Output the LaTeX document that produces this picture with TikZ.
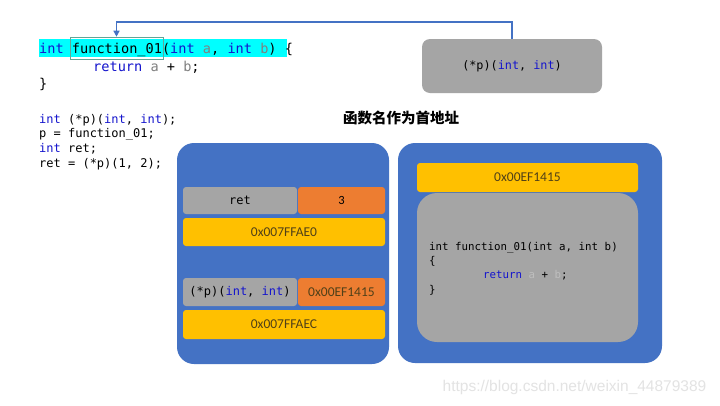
\documentclass[tikz,border=0pt]{standalone}
\usepackage{fontspec}
\setmainfont{Carlito}
\setmonofont{DejaVu Sans Mono}
\newfontfamily\cjk{Noto Sans CJK SC}
\newfontfamily\wmfont{Liberation Sans}
\usetikzlibrary{arrows.meta}
\definecolor{pblue}{HTML}{4472C4}
\definecolor{pgray}{HTML}{A5A5A5}
\definecolor{porange}{HTML}{ED7D31}
\definecolor{pyellow}{HTML}{FFC000}
\definecolor{kw}{RGB}{20,20,205}
\definecolor{vargray}{RGB}{128,128,128}
\definecolor{varlight}{RGB}{190,190,190}
\definecolor{addrtxt}{RGB}{80,64,24}
\definecolor{hl}{HTML}{00FFFF}
\definecolor{hlborder}{RGB}{100,165,150}
\newcommand{\kw}[1]{\textcolor{kw}{#1}}
\newcommand{\vg}[1]{\textcolor{vargray}{#1}}
\begin{document}
\begin{tikzpicture}[x=1pt,y=-1pt,
  panel/.style={fill=pblue, rounded corners=17pt, inner sep=0pt},
  cell/.style={rounded corners=3pt, inner sep=0pt},
  graycell/.style={cell, fill=pgray, font=\ttfamily\fontsize{12}{14}\selectfont},
  orangecell/.style={cell, fill=porange},
  yellowcell/.style={cell, fill=pyellow, text=addrtxt, font=\fontsize{13.5}{16}\selectfont},
  codeA/.style={anchor=base west, inner sep=0pt, font=\ttfamily\fontsize{13.6}{16}\selectfont},
  codeB/.style={anchor=base west, inner sep=0pt, font=\ttfamily\fontsize{12}{14}\selectfont},
  codeC/.style={anchor=base west, inner sep=0pt, font=\ttfamily\fontsize{10.8}{13}\selectfont},
  link/.style={draw=pblue, line width=1.5pt, -{Triangle[length=6pt,width=6pt]}}
]
\useasboundingbox[fill=white] (0,0) rectangle (720,405);

% highlighted first code line
\fill[hl] (39,39) rectangle (287,57);
\node[draw=hlborder, line width=0.6pt, minimum width=93pt, minimum height=22pt, inner sep=0pt] (fn) at (116.5,48) {};
\node[codeA] (l1) at (39,53) {\kw{int} function\_01(\kw{int} \vg{a}, \kw{int} \vg{b}) \{};
\node[codeA] (l2) at (93,71) {\kw{return} \vg{a} + \vg{b};};
\node[codeA] (l3) at (39,88) {\}};

% second code block
\node[codeB] (m1) at (39,123) {\kw{int} (*p)(\kw{int}, \kw{int});};
\node[codeB] (m2) at (39,137.5) {p = function\_01;};
\node[codeB] (m3) at (39,152) {\kw{int} ret;};
\node[codeB] (m4) at (39,167) {ret = (*p)(1, 2);};

% pointer box top right
\node[fill=pgray, rounded corners=8pt, minimum width=180pt, minimum height=54pt, inner sep=0pt,
      font=\ttfamily\fontsize{11.8}{14}\selectfont] (ptr) at (512,66) {(*p)(\kw{int}, \kw{int})};
\coordinate (top) at (0,22);
\draw[link] (ptr.north) -- (ptr.north |- top) -| (fn.north);

% title
\node[font=\cjk\bfseries\fontsize{14.5}{17}\selectfont] (title) at (401,118) {函数名作为首地址};

% left panel
\node[panel, minimum width=212pt, minimum height=221pt] (lp) at (283,253.5) {};
\node[graycell, minimum width=114pt, minimum height=27pt] (ret) at (240,200.5) {ret};
\node[orangecell, minimum width=87pt, minimum height=27pt, font=\fontsize{12.5}{14}\selectfont] (three) at (341.5,200.5) {3};
\node[yellowcell, minimum width=202pt, minimum height=28pt] (a1) at (284,232) {0x007FFAE0};
\node[graycell, minimum width=114pt, minimum height=28pt] (pp) at (240,292) {(*p)(\kw{int}, \kw{int})};
\node[orangecell, minimum width=87pt, minimum height=28pt, text=addrtxt, font=\fontsize{13.5}{16}\selectfont] (addr) at (341.5,292) {0x00EF1415};
\node[yellowcell, minimum width=202pt, minimum height=29pt] (a2) at (284,324.5) {0x007FFAEC};

% right panel
\node[panel, minimum width=264pt, minimum height=220pt] (rp) at (530,253) {};
\node[yellowcell, minimum width=221pt, minimum height=29pt] (fa) at (527.5,177.5) {0x00EF1415};
\node[fill=pgray, rounded corners=20pt, minimum width=221pt, minimum height=149pt, inner sep=0pt] (body) at (527.5,267.5) {};
\node[codeC] (c1) at (429,250) {int function\_01(int a, int b)};
\node[codeC] (c2) at (429,264) {\{};
\node[codeC] (c3) at (483,278) {\kw{return} \textcolor{varlight}{a} + \textcolor{varlight}{b};};
\node[codeC] (c4) at (429,293) {\}};

% watermark
\node[font=\wmfont\fontsize{15.5}{18}\selectfont, text=gray!22, anchor=base] (wm) at (574.5,391) {https://blog.csdn.net/weixin\_44879389};
\end{tikzpicture}
\end{document}
